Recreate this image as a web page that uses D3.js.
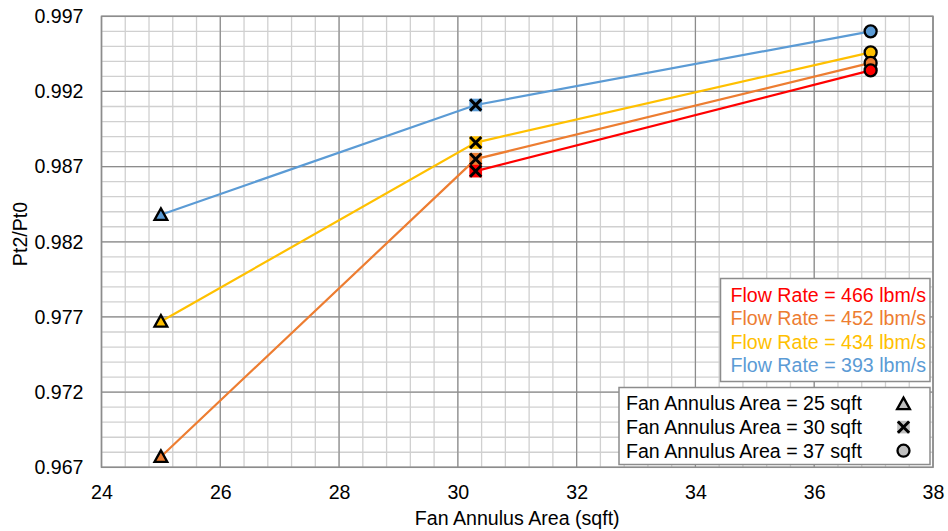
<!DOCTYPE html>
<html>
<head>
<meta charset="utf-8">
<script src="https://cdn.jsdelivr.net/npm/d3@7"></script>
<style>
  html, body { margin: 0; padding: 0; background: #fff; }
  svg { display: block; font-family: Arial, "Liberation Sans", sans-serif; }
</style>
</head>
<body>
<svg id="chart" width="948" height="531"></svg>
<script>
// Fan annulus area (sqft) at which each case was run
const areas = [25, 30.3, 36.95];

// Pt2/Pt0 per flow rate, one value per annulus area (null = not run)
const flowRates = ["466", "452", "434", "393"];
const seriesColors = ["#ff0000", "#ed7d31", "#ffc000", "#5b9bd5"];
const ratio466 = [null, 0.9867, 0.9934];
const ratio452 = [0.9677, 0.9875, 0.9939];
const ratio434 = [0.9767, 0.9886, 0.9946];
const ratio393 = [0.9838, 0.9911, 0.9960];
const seriesValues = [ratio466, ratio452, ratio434, ratio393];

// Marker legend
const areaLabels = ["25", "30", "37"];
const markerShapes = ["triangle", "cross", "circle"];

// Axis ticks
const xTicks = [24, 26, 28, 30, 32, 34, 36, 38];
const yTicks = [0.967, 0.972, 0.977, 0.982, 0.987, 0.992, 0.997];

const svg = d3.select("#chart");
const plot = { left: 101.5, right: 933, top: 16.3, bottom: 467.3 };

const x = d3.scaleLinear().domain([24, 38]).range([plot.left, plot.right]);
const y = d3.scaleLinear().domain([0.967, 0.997]).range([plot.bottom, plot.top]);

const FONT = "19.6px";

// Minor grid (0.4 sqft, 0.001)
const minorX = d3.range(24, 38.001, 0.4).map(v => +v.toFixed(2));
const minorY = d3.range(0.967, 0.9971, 0.001).map(v => +v.toFixed(4));
const grid = svg.append("g");
grid.selectAll("line.mx").data(minorX).enter().append("line")
  .attr("x1", d => x(d)).attr("x2", d => x(d))
  .attr("y1", plot.top).attr("y2", plot.bottom)
  .attr("stroke", "#d0d0d0").attr("stroke-width", 1.3);
grid.selectAll("line.my").data(minorY).enter().append("line")
  .attr("y1", d => y(d)).attr("y2", d => y(d))
  .attr("x1", plot.left).attr("x2", plot.right)
  .attr("stroke", "#d0d0d0").attr("stroke-width", 1.3);

// Major grid
grid.selectAll("line.Mx").data(xTicks).enter().append("line")
  .attr("x1", d => x(d)).attr("x2", d => x(d))
  .attr("y1", plot.top).attr("y2", plot.bottom)
  .attr("stroke", "#8c8c8c").attr("stroke-width", 1.2);
grid.selectAll("line.My").data(yTicks).enter().append("line")
  .attr("y1", d => y(d)).attr("y2", d => y(d))
  .attr("x1", plot.left).attr("x2", plot.right)
  .attr("stroke", "#8c8c8c").attr("stroke-width", 1.2);

// Plot frame
svg.append("rect")
  .attr("x", plot.left).attr("y", plot.top)
  .attr("width", plot.right - plot.left).attr("height", plot.bottom - plot.top)
  .attr("fill", "none").attr("stroke", "#8c8c8c").attr("stroke-width", 1.5);

// Axes (labels only, domain and tick lines hidden)
const xAxis = svg.append("g")
  .attr("transform", `translate(0,${plot.bottom})`)
  .call(d3.axisBottom(x).tickValues(xTicks).tickSize(0).tickPadding(18).tickFormat(d3.format("d")));
const yAxis = svg.append("g")
  .attr("transform", `translate(${plot.left},0)`)
  .call(d3.axisLeft(y).tickValues(yTicks).tickSize(0).tickPadding(18).tickFormat(d3.format(".3f")));
[xAxis, yAxis].forEach(a => {
  a.select(".domain").remove();
  a.selectAll("text").attr("font-size", FONT).attr("fill", "#000")
    .attr("font-family", 'Arial, "Liberation Sans", sans-serif');
});

// Axis titles
svg.append("text")
  .attr("x", (plot.left + plot.right) / 2).attr("y", 525)
  .attr("text-anchor", "middle").attr("font-size", FONT)
  .text("Fan Annulus Area (sqft)");
svg.append("text")
  .attr("transform", "translate(27,234) rotate(-90)")
  .attr("text-anchor", "middle").attr("font-size", FONT)
  .text("Pt2/Pt0");

// Marker drawing
function drawMarker(g, shape, cx, cy, fill) {
  if (shape === "triangle") {
    const s = 6.4;
    g.append("path")
      .attr("d", `M${cx},${cy - s} L${cx + s},${cy + s * 0.8} L${cx - s},${cy + s * 0.8} Z`)
      .attr("fill", fill).attr("stroke", "#000").attr("stroke-width", 2.3)
      .attr("stroke-linejoin", "miter");
  } else if (shape === "cross") {
    const s = 6.3;
    g.append("rect")
      .attr("x", cx - s).attr("y", cy - s).attr("width", 2 * s).attr("height", 2 * s)
      .attr("fill", fill);
    const c = 5.6;
    g.append("path")
      .attr("d", `M${cx - c},${cy - c} L${cx + c},${cy + c} M${cx + c},${cy - c} L${cx - c},${cy + c}`)
      .attr("stroke", "#000").attr("stroke-width", 3);
  } else {
    g.append("circle").attr("cx", cx).attr("cy", cy).attr("r", 6)
      .attr("fill", fill).attr("stroke", "#000").attr("stroke-width", 2.3);
  }
}

// Series: draw in reverse so the 466 lbm/s series sits on top
const seriesG = svg.append("g");
const line = d3.line()
  .defined(d => d.v !== null)
  .x(d => x(d.a)).y(d => y(d.v));
const order = [3, 2, 1, 0];
order.forEach(i => {
  const pts = areas.map((a, j) => ({ a, v: seriesValues[i][j], shape: markerShapes[j] }));
  seriesG.append("path").datum(pts)
    .attr("d", line).attr("fill", "none")
    .attr("stroke", seriesColors[i]).attr("stroke-width", 2.2);
});
order.forEach(i => {
  areas.forEach((a, j) => {
    const v = seriesValues[i][j];
    if (v === null) return;
    drawMarker(seriesG, markerShapes[j], x(a), y(v), seriesColors[i]);
  });
});

// Flow-rate legend
const leg1 = svg.append("g");
leg1.append("rect")
  .attr("x", 720.5).attr("y", 278.5).attr("width", 209.5).attr("height", 103)
  .attr("fill", "#fff").attr("stroke", "#8c8c8c").attr("stroke-width", 1.5);
flowRates.forEach((fr, i) => {
  leg1.append("text")
    .attr("x", 926).attr("y", 295 + i * 23.5).attr("dy", "0.35em")
    .attr("text-anchor", "end").attr("font-size", FONT)
    .attr("fill", seriesColors[i])
    .text(`Flow Rate = ${fr} lbm/s`);
});

// Annulus-area legend
const leg2 = svg.append("g");
leg2.append("rect")
  .attr("x", 619).attr("y", 387.5).attr("width", 311).attr("height", 77)
  .attr("fill", "#fff").attr("stroke", "#8c8c8c").attr("stroke-width", 1.5);
areaLabels.forEach((lab, i) => {
  const cy = 403.5 + i * 23.6;
  leg2.append("text")
    .attr("x", 626).attr("y", cy).attr("dy", "0.35em")
    .attr("font-size", FONT).attr("fill", "#000")
    .text(`Fan Annulus Area = ${lab} sqft`);
  drawMarker(leg2, markerShapes[i], 903.5, cy + (markerShapes[i] === "triangle" ? 0.5 : 0), "#bfbfbf");
});
</script>
</body>
</html>
